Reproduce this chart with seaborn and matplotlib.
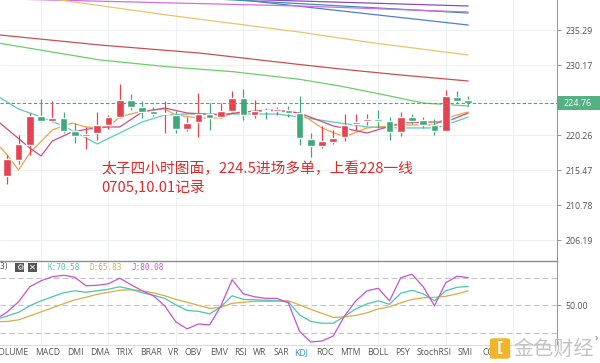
import numpy as np
import pandas as pd
import matplotlib
matplotlib.use("Agg")
import matplotlib.pyplot as plt
from matplotlib.patches import Rectangle, FancyBboxPatch
import seaborn as sns

### DATA ###
# 4h candles, oldest first
opens = [214.66, 216.83, 218.95, 222.91, 222.21, 222.59, 220.82, 220.19, 220.54, 221.66,
         222.70, 225.16, 224.17, 223.61, 223.12, 223.05, 221.06, 222.11, 223.19, 222.77,
         223.65, 225.40, 223.09, 223.82, 223.65, 223.75, 223.29, 219.71, 218.79, 219.36,
         219.92, 221.77, 222.17, 222.49, 222.25, 220.64, 222.70, 222.35, 221.63, 220.86,
         225.63, 225.12]
highs = [217.52, 220.27, 223.40, 225.30, 225.06, 223.47, 221.93, 221.38, 223.54, 223.05,
         227.44, 226.01, 225.06, 224.17, 225.02, 223.61, 222.77, 226.15, 224.74, 224.78,
         226.44, 226.72, 225.23, 224.03, 224.17, 224.38, 225.73, 220.54, 221.52, 220.89,
         223.15, 223.26, 223.26, 223.75, 222.77, 223.51, 223.15, 222.81, 222.49, 226.65,
         226.40, 225.80]
lows = [213.58, 216.29, 217.52, 222.07, 222.07, 220.54, 219.16, 218.34, 219.57, 221.03,
        222.63, 223.82, 222.63, 222.84, 220.54, 220.54, 220.82, 219.99, 220.96, 222.63,
        223.54, 222.35, 222.63, 222.42, 223.05, 222.77, 218.88, 217.24, 218.43, 219.02,
        219.39, 220.96, 221.59, 221.24, 219.64, 220.06, 221.79, 221.20, 220.33, 220.80,
        224.70, 224.38]
closes = [216.97, 219.02, 222.91, 222.21, 222.63, 220.86, 220.17, 220.47, 221.72, 222.70,
          225.16, 224.17, 223.47, 223.19, 223.40, 221.10, 221.97, 223.26, 222.59, 223.65,
          225.40, 223.05, 223.61, 223.61, 223.85, 223.29, 219.81, 218.79, 219.43, 219.85,
          221.63, 222.07, 222.42, 222.25, 220.64, 222.70, 222.25, 221.66, 220.86, 225.66,
          225.06, 224.76]

# moving averages (candle index, price)
ma_teal_x = [-0.65, 1, 3, 5, 7, 8, 10, 12, 14, 16, 20, 24, 26, 29, 32, 35, 38, 39, 40, 41]
ma_teal_y = [225.49, 223.89, 222.77, 221.52, 219.85, 219.02, 220.54, 222.07, 223.05, 223.19,
             223.19, 223.19, 222.77, 222.07, 221.38, 221.24, 221.24, 221.66, 222.21, 222.77]
ma_orange_x = [-0.65, 0, 1, 2, 4, 5.75, 7, 8.25, 9, 10, 12, 14, 15, 17, 19, 20, 23, 26, 28,
               30, 32, 35, 38, 39, 40, 41]
ma_orange_y = [218.61, 217.52, 215.47, 217.79, 220.96, 221.93, 221.38, 221.24, 221.38, 222.77,
               223.61, 223.89, 223.05, 222.63, 222.63, 223.33, 223.75, 223.33, 221.24, 219.99,
               221.24, 221.66, 221.66, 222.63, 223.05, 223.47]
ma_pink_x = [-0.65, 2, 3, 4, 5.75, 8.25, 10, 12, 14, 16, 19, 21, 24, 26, 29, 32, 35, 37.4, 39, 41]
ma_pink_y = [221.93, 218.47, 217.38, 219.43, 220.68, 221.38, 221.38, 223.47, 224.03, 223.33,
             223.05, 223.47, 223.75, 223.33, 221.52, 220.54, 221.93, 222.07, 222.07, 223.33]
ma_green_x = [-0.65, 8.25, 14.2, 20.1, 26, 29.6, 33.6, 37, 41]
ma_green_y = [233.33, 230.90, 229.93, 229.20, 228.11, 227.15, 225.87, 224.74, 224.31]
ma_red_x = [-0.65, 8.25, 17.1, 26, 30.5, 35, 41]
ma_red_y = [234.55, 233.08, 231.91, 230.24, 229.45, 228.73, 227.87]
ma_gold_x = [-0.65, 4.7, 14.2, 26, 32, 41]
ma_gold_y = [240.98, 239.77, 237.52, 234.99, 233.52, 231.62]
ma_magenta_x = [-0.65, 26, 41]
ma_magenta_y = [239.95, 238.87, 237.97]
ma_purple_x = [-0.65, 26, 41]
ma_purple_y = [240.98, 239.62, 238.87]
ma_steel_x = [-0.65, 41]
ma_steel_y = [241.74, 237.82]
ma_blue_x = [-0.65, 41]
ma_blue_y = [243.87, 236.03]

# KDJ(9,3,3)
kdj_x = [-0.65] + list(range(42))
k_vals = [36.0, 38.5, 42.4, 49.5, 54.9, 59.3, 63.6, 65.8, 64.2, 65.8, 67.5, 70.2, 67.5, 63.6,
          60.9, 57.6, 50.5, 44.5, 43.5, 40.7, 48.4, 60.4, 56.5, 56.0, 55.5, 54.9, 53.8, 39.6,
          32.5, 30.6, 30.6, 38.0, 46.2, 51.6, 54.9, 51.1, 63.1, 66.4, 62.5, 54.9, 65.8, 69.6,
          70.58]
d_vals = [32.3, 32.5, 34.2, 38.5, 42.9, 47.3, 51.6, 56.0, 58.7, 62.0, 64.2, 66.4, 66.9, 65.8,
          63.6, 60.4, 56.5, 53.3, 50.0, 46.7, 47.8, 52.2, 53.3, 54.4, 54.4, 54.9, 54.9, 50.5,
          45.6, 41.3, 36.9, 37.5, 39.1, 41.8, 46.2, 48.4, 52.7, 56.5, 58.2, 58.7, 59.8, 62.5,
          65.83]
j_vals = [37.8, 42.9, 53.8, 70.2, 76.7, 81.1, 82.7, 80.5, 71.3, 71.8, 73.5, 79.5, 72.4, 65.8,
          60.4, 49.5, 32.0, 24.4, 29.8, 28.7, 49.5, 77.8, 62.5, 59.3, 57.6, 57.6, 52.7, 21.6,
          10.2, 11.3, 16.7, 38.5, 54.9, 65.8, 68.5, 54.9, 80.0, 83.8, 70.2, 49.5, 74.5, 81.6,
          80.08]

price_ticks = [235.29, 230.17, 225.16, 220.26, 215.47, 210.78, 206.19]
last_price = 224.76
tabs = ["VOLUME", "MACD", "DMI", "DMA", "TRIX", "BRAR", "VR", "OBV", "EMV", "RSI", "WR", "SAR",
        "KDJ", "ROC", "MTM", "BOLL", "PSY", "StochRSI", "SMI", "CCI"]
tab_x = [11, 48, 75, 100, 125, 151, 173, 193, 219, 240, 260, 281, 301, 325, 350, 378, 402,
         434, 465, 489]
note_lines = ["太子四小时图面，224.5进场多单，上看228一线", "0705,10.01记录"]

### STYLE ###
sns.set_style("white")
plt.rcParams['font.family'] = ['Open Sans', 'Noto Sans CJK SC', 'DejaVu Sans']
UP, DOWN = '#e4434f', '#3fa97a'
GRID = '#edf1f4'
W, H = 600, 363

fig = plt.figure(figsize=(6, 3.63), dpi=100)
ax = fig.add_axes([0, 1 - 260.7 / H, 557 / W, 260.7 / H])
ax2 = fig.add_axes([0, 1 - 345 / H, 557 / W, 84.3 / H])

xmin, xmax = -0.65, 48.9
grid_x = [3, 9, 15, 21, 27, 33, 39, 45]

### MAIN PANEL ###
ax.set_yscale('log')
ax.set_xlim(xmin, xmax)
ax.set_ylim(203.53, 239.77)
for gx in grid_x:
    ax.axvline(gx, color=GRID, lw=0.8, zorder=0)
for t in price_ticks:
    ax.axhline(t, color=GRID, lw=0.8, zorder=0)

ma_lines = [
    (ma_blue_x, ma_blue_y, '#4f7fd4'),
    (ma_steel_x, ma_steel_y, '#3d8fae'),
    (ma_purple_x, ma_purple_y, '#8a4cc0'),
    (ma_magenta_x, ma_magenta_y, '#d070e0'),
    (ma_gold_x, ma_gold_y, '#ebc46a'),
    (ma_red_x, ma_red_y, '#c9504f'),
    (ma_green_x, ma_green_y, '#69cf6a'),
    (ma_teal_x, ma_teal_y, '#5cc9bf'),
    (ma_orange_x, ma_orange_y, '#eea24a'),
    (ma_pink_x, ma_pink_y, '#cc4d86'),
]
for xs, ys, col in ma_lines:
    sns.lineplot(x=xs, y=ys, ax=ax, color=col, lw=0.9, estimator=None, sort=False,
                 legend=False, zorder=2)

df = pd.DataFrame({'o': opens, 'h': highs, 'l': lows, 'c': closes})
df['i'] = np.arange(len(df))
df['col'] = np.where(df['c'] >= df['o'], UP, DOWN)
ax.vlines(df['i'], df['l'], df['h'], colors=df['col'], lw=0.9, zorder=3)
ax.bar(df['i'], (df['c'] - df['o']).abs(), bottom=df[['o', 'c']].min(axis=1),
       width=0.68, color=df['col'], zorder=4)

ax.axhline(last_price, color='#4aa57e', lw=0.8, ls=(0, (3, 2)), zorder=5)

ax.yaxis.tick_right()
ax.set_yticks(price_ticks)
ax.set_yticklabels(['' if t == 225.16 else f'{t:.2f}' for t in price_ticks])
ax.yaxis.set_minor_locator(matplotlib.ticker.NullLocator())
ax.tick_params(axis='y', right=True, length=3, width=0.6, color='#888888',
               labelsize=6.3, labelcolor='#555555', pad=3)
ax.set_xticks([])
for s in ['top', 'left', 'bottom']:
    ax.spines[s].set_visible(False)
ax.spines['right'].set_color('#9a9a9a')
ax.spines['right'].set_linewidth(0.8)
ax.set_xlabel('')
ax.set_ylabel('')

for k, line in enumerate(note_lines):
    fig.text(101 / W, 1 - (169 + 18 * k) / H, line, color='#e02a2a', fontsize=10.6,
             va='center', ha='left', family=['Noto Sans CJK SC', 'DejaVu Sans'])

# last price tag
fig.add_artist(Rectangle((557 / W, 1 - 110 / H), 43 / W, 14 / H, transform=fig.transFigure,
                         facecolor='#55b183', edgecolor='none', zorder=5))
fig.text(578 / W, 1 - 103 / H, f'{last_price:.2f}', color='white', fontsize=6.5,
         ha='center', va='center', zorder=6)

### KDJ PANEL ###
ax2.set_xlim(xmin, xmax)
ax2.set_ylim(6.9, 98.5)
for gx in grid_x:
    ax2.axvline(gx, color=GRID, lw=0.8, zorder=0)
for lvl in [80, 50, 20]:
    ax2.axhline(lvl, color='#c4c4c4', lw=0.8, ls=(0, (5, 3)), zorder=1)
kdj = pd.DataFrame({'x': kdj_x, 'K': k_vals, 'D': d_vals, 'J': j_vals})
sns.lineplot(data=kdj, x='x', y='D', ax=ax2, color='#d9ac45', lw=0.9, estimator=None, legend=False)
sns.lineplot(data=kdj, x='x', y='K', ax=ax2, color='#4cc4ad', lw=0.9, estimator=None, legend=False)
sns.lineplot(data=kdj, x='x', y='J', ax=ax2, color='#c653d2', lw=0.9, estimator=None, legend=False)
ax2.yaxis.tick_right()
ax2.set_yticks([50])
ax2.set_yticklabels(['50.00'])
ax2.tick_params(axis='y', right=True, length=3, width=0.6, color='#888888',
                labelsize=6.3, labelcolor='#555555', pad=3)
ax2.set_xticks([])
ax2.set_xlabel('')
ax2.set_ylabel('')
ax2.spines['left'].set_visible(False)
ax2.spines['top'].set_color('#8c8c8c')
ax2.spines['top'].set_linewidth(1.0)
ax2.spines['right'].set_color('#9a9a9a')
ax2.spines['right'].set_linewidth(0.8)
ax2.spines['bottom'].set_color('#dddddd')
ax2.spines['bottom'].set_linewidth(0.8)

# KDJ legend row
ly = 1 - 267 / H
fig.text(0, ly, '3)', fontsize=5.8, color='#555555', va='center', family='DejaVu Sans Mono')
for bx, sym in [(15, '\u2699'), (28, '\u2715')]:
    fig.add_artist(Rectangle((bx / W, 1 - 272 / H), 9 / W, 9.5 / H, transform=fig.transFigure,
                             facecolor='#555555', edgecolor='none'))
    fig.text((bx + 4.5) / W, 1 - 267.2 / H, sym, fontsize=6, color='white', ha='center',
             va='center', family='DejaVu Sans')
for lx, txt, col in [(48, f'K:{k_vals[-1]:.2f}', '#4cc4ad'), (89, f'D:{d_vals[-1]:.2f}', '#d9ac45'),
                     (132, f'J:{j_vals[-1]:.2f}', '#c653d2')]:
    fig.text(lx / W, ly, txt, fontsize=5.6, color=col, va='center', family='DejaVu Sans Mono')

# indicator tabs
for name, tx in zip(tabs, tab_x):
    fig.text(tx / W, 1 - 352.5 / H, name, fontsize=6.2, ha='center', va='center',
             color='#3f8fd8' if name == 'KDJ' else '#555555')

# watermark
fig.add_artist(FancyBboxPatch((491 / W, 1 - 358 / H), 18 / W, 19 / H,
                              boxstyle='round,pad=0.002,rounding_size=0.006',
                              transform=fig.transFigure, facecolor='#f2b01e',
                              edgecolor='none', alpha=0.95, zorder=7))
fig.text(500 / W, 1 - 348.5 / H, '[', fontsize=10, color='white', ha='center', va='center',
         fontweight='bold', zorder=8, family='DejaVu Sans')
fig.text(554 / W, 1 - 349 / H, '金色财经', fontsize=14.5, color='#bdbdbd', ha='center',
         va='center', alpha=0.9, zorder=7, family=['Noto Sans CJK SC', 'DejaVu Sans'])
fig.text(596 / W, 1 - 338 / H, '\u203a', fontsize=8, color='#777777', ha='center',
         va='center', zorder=7)

plt.savefig('out.png', dpi=100)
